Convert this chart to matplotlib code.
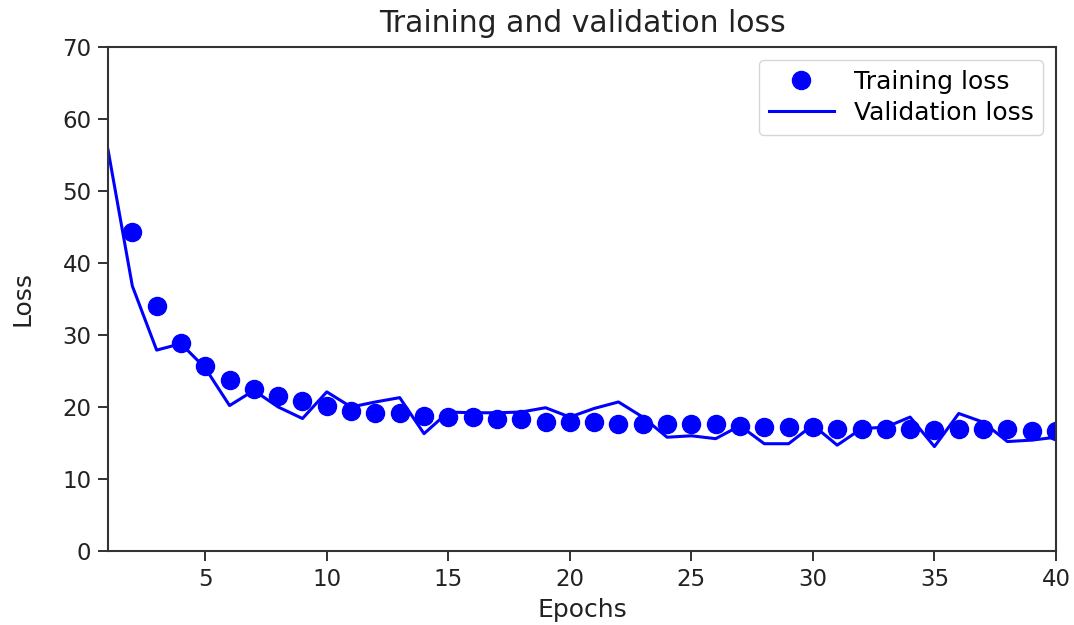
import matplotlib
matplotlib.use("Agg")
import matplotlib.pyplot as plt
import numpy as np

# values (epoch 1 training point is off the chart)
epochs = np.arange(1, 41)
train_loss = [np.nan, 44.3, 34.0, 28.9, 25.7, 23.7, 22.5, 21.5, 20.8, 20.2,
              19.5, 19.2, 19.2, 18.8, 18.6, 18.6, 18.3, 18.3, 17.9, 17.9,
              17.9, 17.7, 17.7, 17.6, 17.6, 17.6, 17.3, 17.2, 17.2, 17.2,
              16.9, 16.9, 16.9, 17.0, 16.8, 16.9, 16.9, 16.9, 16.7, 16.7]
val_loss = [55.7, 36.8, 27.9, 28.8, 25.4, 20.2, 22.3, 20.0, 18.4, 22.1,
            20.0, 20.7, 21.3, 16.3, 19.3, 19.2, 19.2, 19.3, 19.9, 18.6,
            19.8, 20.7, 18.6, 15.8, 16.0, 15.6, 17.4, 14.9, 14.9, 17.5,
            14.7, 17.0, 17.2, 18.6, 14.5, 19.1, 17.9, 15.2, 15.4, 15.8]

fig = plt.figure(figsize=(10.74, 6.25), dpi=100)
ax = fig.add_axes([0.1006, 0.1184, 0.8826, 0.8064])

ax.plot(epochs, train_loss, 'bo', markersize=13, label='Training loss')
ax.plot(epochs, val_loss, 'b', linewidth=2.2, label='Validation loss')

ax.set_xlim(1, 40)
ax.set_ylim(0, 70)
ax.set_xticks([5, 10, 15, 20, 25, 30, 35, 40])
ax.set_yticks(range(0, 71, 10))
ax.tick_params(labelsize=16.5, length=7, width=1.3, colors='#222222', pad=5)
for s in ax.spines.values():
    s.set_linewidth(1.5)
    s.set_color('#333333')

ax.set_title('Training and validation loss', fontsize=21.5, color='#222222', pad=11)
ax.set_xlabel('Epochs', fontsize=18, color='#222222', labelpad=5)
ax.set_ylabel('Loss', fontsize=18, color='#222222', labelpad=20)
ax.legend(loc='upper right', fontsize=18, handlelength=2.6, borderpad=0.4,
          labelspacing=0.3, handletextpad=0.8)

fig.savefig('out.png', dpi=100)
